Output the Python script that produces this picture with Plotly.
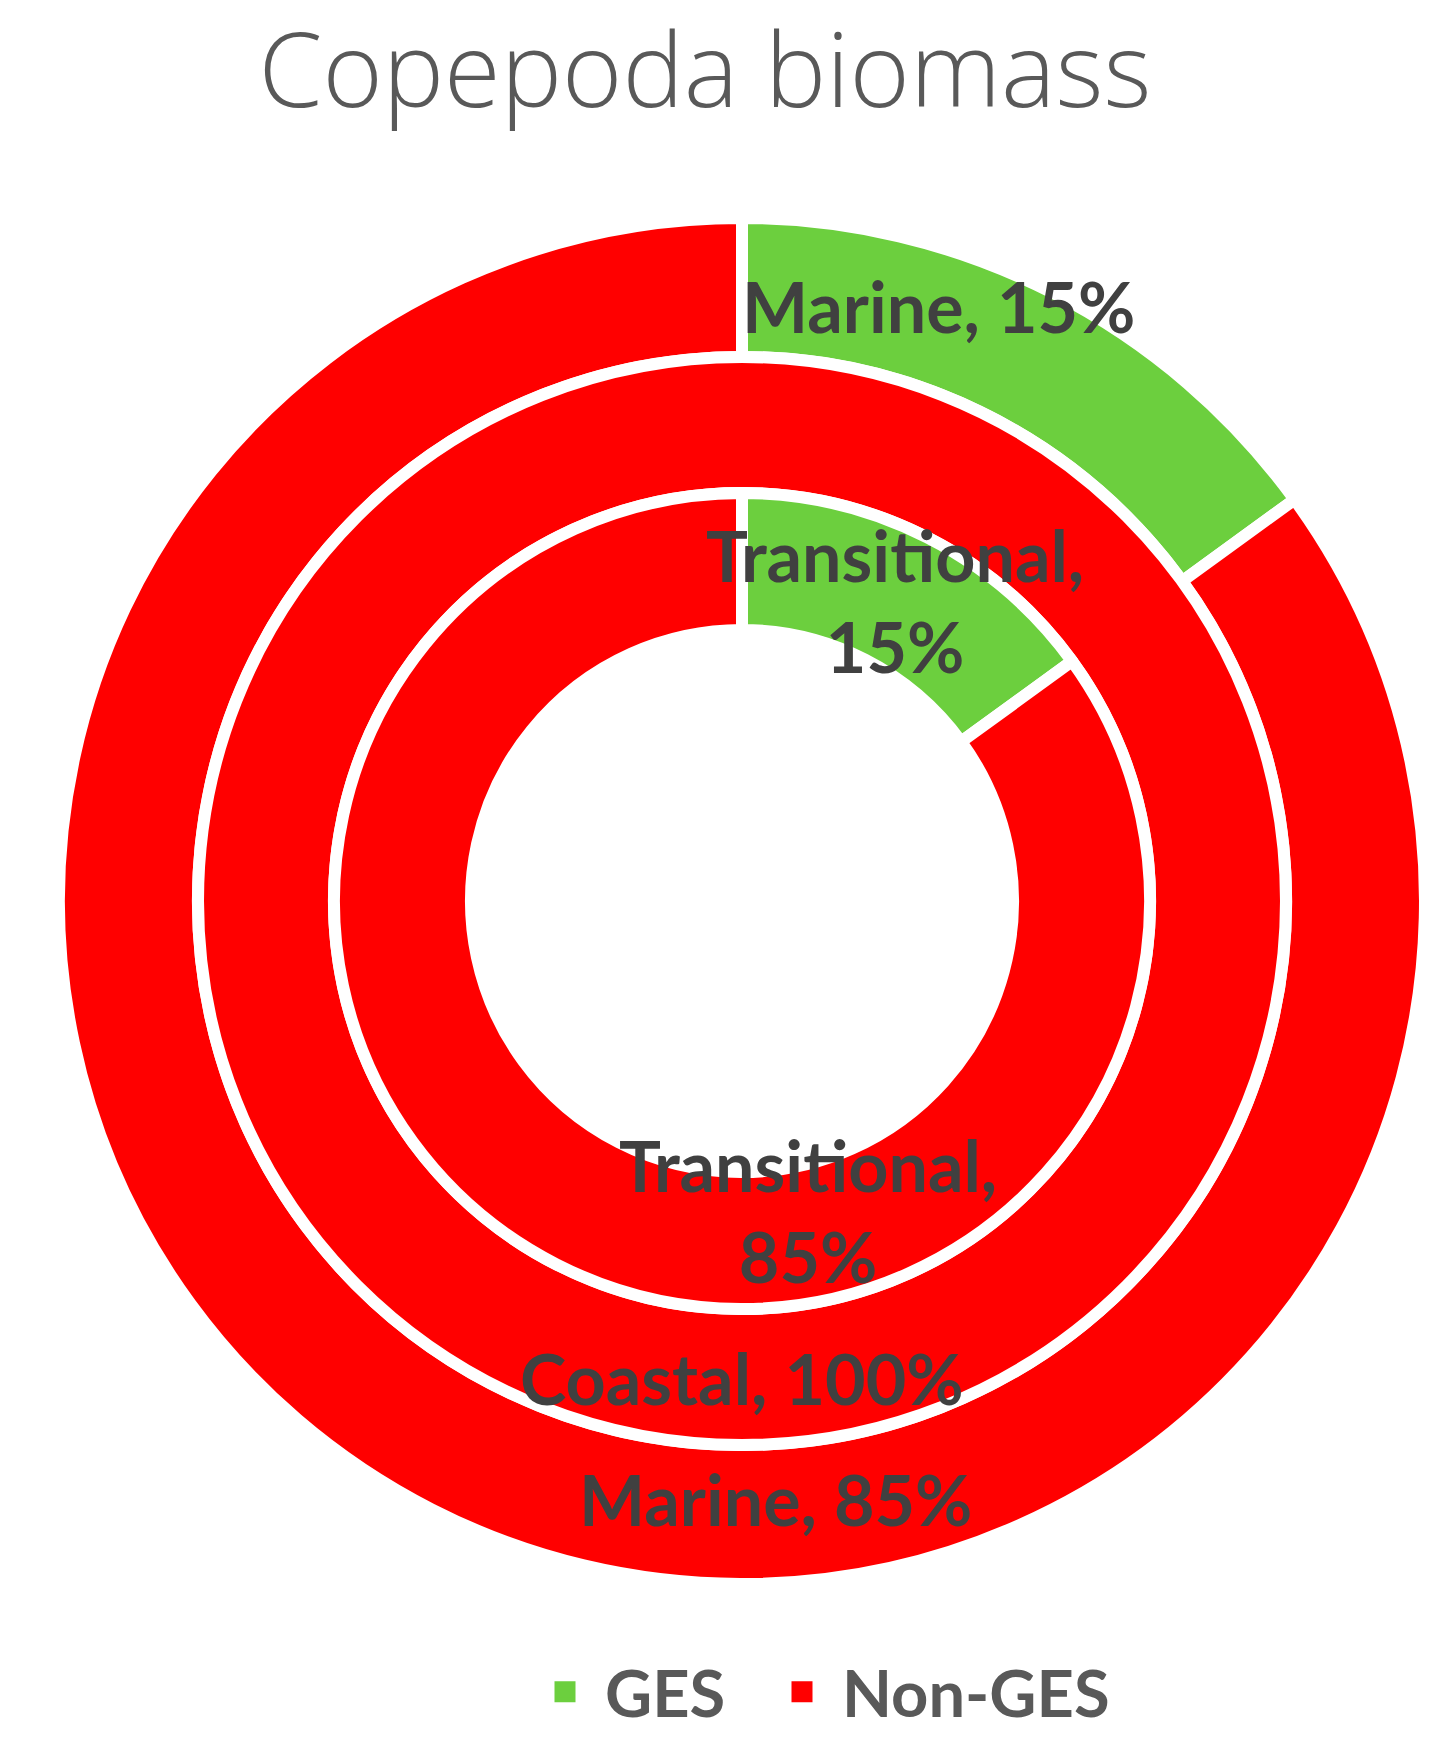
import plotly.graph_objects as go

# Copepoda biomass status per water category
status = ["GES", "Non-GES"]
marine = [15, 85]
coastal = [0, 100]
transitional = [15, 85]

colors = ["#6CCF3E", "#FF0000"]
label_color = "#404040"

W, H = 1454, 1755
off = 8  # page body margin shifts everything by 8px
cx, cy = 742 - off, 901 - off  # ring centre in pixels


def px(x, y):
    return (x - off) / W, 1 - (y - off) / H


def dom(r):
    return dict(x=[(cx - r) / W, (cx + r) / W],
                y=[1 - (cy + r) / H, 1 - (cy - r) / H])


# ring name, values, outer and inner radius (px)
rings = [
    ("Marine", marine, 683, 544),
    ("Coastal", coastal, 544, 408),
    ("Transitional", transitional, 408, 271),
]

fig = go.Figure()
for name, vals, r_out, r_in in rings:
    fig.add_trace(go.Pie(
        labels=status,
        values=vals,
        name=name,
        domain=dom(r_out),
        hole=r_in / r_out,
        sort=False,
        direction="clockwise",
        rotation=0,
        textinfo="none",
        showlegend=False,
        marker=dict(colors=colors, line=dict(color="white", width=12)),
    ))

# legend proxies (pie legend squares are too small), one legend per entry
for s, c, lg in zip(status, colors, ["legend", "legend2"]):
    fig.add_trace(go.Scatter(x=[None], y=[None], mode="markers", name=s, legend=lg,
                             marker=dict(symbol="square", size=16, color=c,
                                         line=dict(color=c, width=5))))

# data labels, placed where the original chart puts them
lab_font = dict(family="Lato", size=70, color=label_color, weight="bold")
labels = [
    ("%s, %d%%" % ("Marine", marine[0]), 938, 306),
    ("%s,<br>%d%%" % ("Transitional", transitional[0]), 895, 600),
    ("%s,<br>%d%%" % ("Transitional", transitional[1]), 808, 1210),
    ("%s, %d%%" % ("Coastal", coastal[1]), 742, 1378),
    ("%s, %d%%" % ("Marine", marine[1]), 775, 1499),
]
for txt, x, y in labels:
    ax, ay = px(x, y)
    fig.add_annotation(text=txt, x=ax, y=ay, xref="paper", yref="paper",
                       showarrow=False, font=lab_font, xanchor="center", yanchor="middle")

tx, _ = px(705, 73)
leg_font = dict(family="Lato", size=65, color="#595959", weight="bold")
_, ly = px(0, 1692)
g1x, _ = px(560 - 35, 0)
g2x, _ = px(797 - 35, 0)
fig.update_layout(
    width=W, height=H,
    margin=dict(l=0, r=0, t=0, b=0),
    paper_bgcolor="white",
    plot_bgcolor="white",
    xaxis=dict(visible=False),
    yaxis=dict(visible=False),
    title=dict(text="Copepoda biomass", x=tx, y=1, xanchor="center",
               yanchor="top", xref="paper", yref="paper", pad=dict(t=27),
               font=dict(family="Open Sans", size=103, color="#595959", weight=300)),
    showlegend=True,
    legend=dict(x=g1x, y=ly, xanchor="left", yanchor="middle", font=leg_font,
                itemwidth=70, bgcolor="rgba(0,0,0,0)"),
    legend2=dict(x=g2x, y=ly, xanchor="left", yanchor="middle", font=leg_font,
                 itemwidth=70, bgcolor="rgba(0,0,0,0)"),
)

fig.write_html("out.html")
